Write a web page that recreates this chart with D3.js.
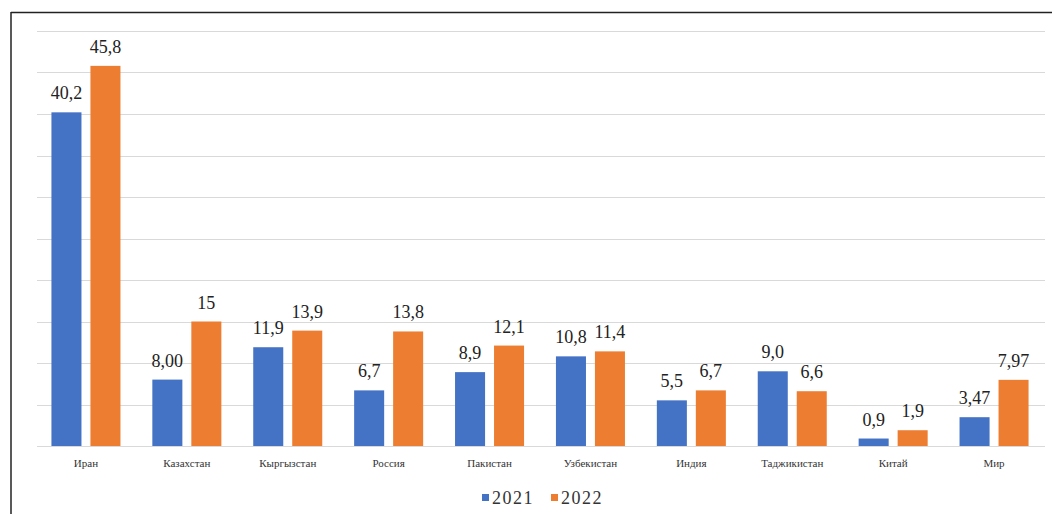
<!DOCTYPE html>
<html>
<head>
<meta charset="utf-8">
<script src="https://cdn.jsdelivr.net/npm/d3@7"></script>
<style>
  html, body { margin: 0; padding: 0; background: #fff; }
  svg { display: block; }
  text { font-family: "Liberation Serif", "Times New Roman", "DejaVu Serif", serif; }
</style>
</head>
<body>
<svg id="chart" width="1058" height="514"></svg>
<script>
const categories = ["Иран", "Казахстан", "Кыргызстан", "Россия", "Пакистан", "Узбекистан", "Индия", "Таджикистан", "Китай", "Мир"];
const seriesNames = ["2021", "2022"];
const values2021 = [40.2, 8.00, 11.9, 6.7, 8.9, 10.8, 5.5, 9.0, 0.9, 3.47];
const values2022 = [45.8, 15, 13.9, 13.8, 12.1, 11.4, 6.7, 6.6, 1.9, 7.97];
const labels2021 = ["40,2", "8,00", "11,9", "6,7", "8,9", "10,8", "5,5", "9,0", "0,9", "3,47"];
const labels2022 = ["45,8", "15", "13,9", "13,8", "12,1", "11,4", "6,7", "6,6", "1,9", "7,97"];
const yTicks = [0, 5, 10, 15, 20, 25, 30, 35, 40, 45, 50];

const colors = { "2021": "#4472C4", "2022": "#ED7D31" };
const seriesValues = { "2021": values2021, "2022": values2022 };
const seriesLabels = { "2021": labels2021, "2022": labels2022 };

const svg = d3.select("#chart");

// frame (cropped border)
svg.append("line").attr("x1", 11).attr("x2", 1052).attr("y1", 12.5).attr("y2", 12.5)
  .attr("stroke", "#222").attr("stroke-width", 1.5);
svg.append("line").attr("x1", 11).attr("x2", 11).attr("y1", 12).attr("y2", 514)
  .attr("stroke", "#222").attr("stroke-width", 1.5);

const x = d3.scaleBand().domain(categories).range([35.5, 1044.5])
  .paddingInner(0.316).paddingOuter(0.158);
const xs = d3.scaleBand().domain(seriesNames).range([0, x.bandwidth()]).paddingInner(0.23);
const y = d3.scaleLinear().domain([0, 50]).range([446, 31]);

// gridlines
svg.append("g").selectAll("line").data(yTicks).join("line")
  .attr("x1", 37).attr("x2", 1045)
  .attr("y1", d => Math.round(y(d)) + 0.5).attr("y2", d => Math.round(y(d)) + 0.5)
  .attr("stroke", "#d9d9d9").attr("stroke-width", 1);

const rows = categories.map((c, i) => ({ c, i }));

const groups = svg.append("g").selectAll("g").data(rows).join("g")
  .attr("transform", d => `translate(${x(d.c)},0)`);

seriesNames.forEach(s => {
  groups.append("rect")
    .attr("x", xs(s))
    .attr("width", xs.bandwidth())
    .attr("y", d => y(seriesValues[s][d.i]))
    .attr("height", d => y(0) - y(seriesValues[s][d.i]))
    .attr("fill", colors[s]);
  groups.append("text")
    .attr("x", xs(s) + xs.bandwidth() / 2)
    .attr("y", d => y(seriesValues[s][d.i]) - 13)
    .attr("text-anchor", "middle")
    .attr("font-size", 18)
    .attr("fill", "#222")
    .text(d => seriesLabels[s][d.i]);
});

// category labels
svg.append("g").selectAll("text").data(categories).join("text")
  .attr("x", d => x(d) + x.bandwidth() / 2)
  .attr("y", 467)
  .attr("text-anchor", "middle")
  .attr("font-size", 11)
  .attr("fill", "#333")
  .text(d => d);

// legend
const legend = svg.append("g");
const legendX = [482, 551];
seriesNames.forEach((s, i) => {
  legend.append("rect").attr("x", legendX[i]).attr("y", 494).attr("width", 7).attr("height", 7)
    .attr("fill", colors[s]);
  legend.append("text").attr("x", legendX[i] + 10).attr("y", 504)
    .attr("font-size", 18)
    .attr("letter-spacing", 1.5)
    .attr("fill", "#333")
    .text(s);
});
</script>
</body>
</html>
